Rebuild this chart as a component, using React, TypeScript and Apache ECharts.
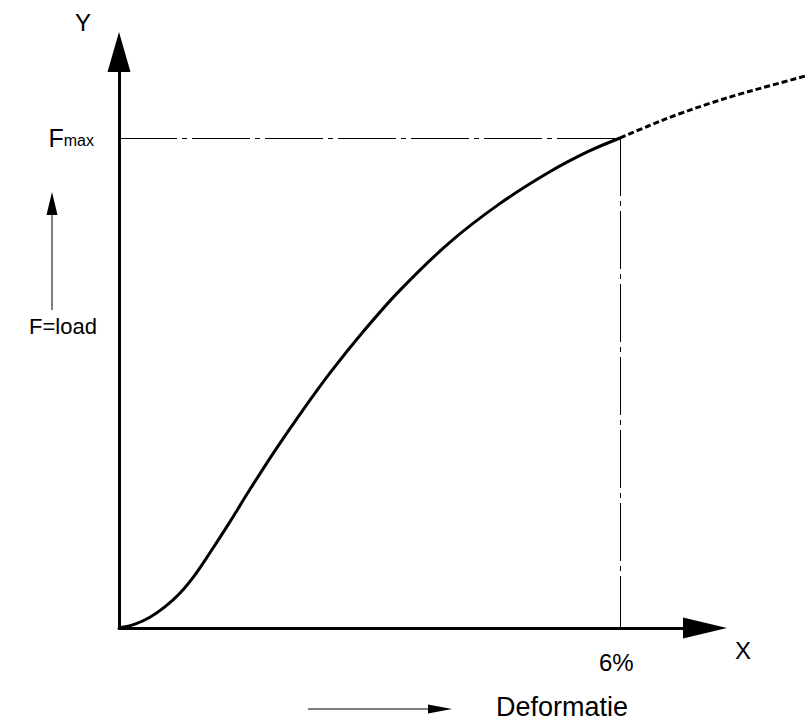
import React, { useEffect, useRef } from "react";
import * as echarts from "echarts";

// Measured curve (deformation in %, load in % of Fmax)
const deformation = [0, 0.191, 0.37, 0.549, 0.729, 0.908, 1.087, 1.326, 1.565, 1.864, 2.162, 2.52, 2.915, 3.357, 3.954, 4.551, 5.148, 5.626, 6.0];
const load = [0, 0.8, 2.2, 4.3, 7.1, 10.8, 15.3, 21.6, 28.2, 36.1, 43.5, 51.9, 60.3, 68.8, 78.6, 86.5, 93.0, 97.3, 100];
// Extrapolated (dashed) part beyond Fmax
const deformationExt = [6.0, 6.346, 6.704, 7.063, 7.421, 7.78, 8.23];
const loadExt = [100, 102.5, 104.9, 107.0, 108.9, 110.6, 112.7];

const X_FMAX = 6;
const FMAX = 100;
const X_MAX = 7; // end of the drawn x axis (arrow)
const X_MAX_DATA = 8.25; // data extends past the arrow
const Y_MAX = 117.55;

const FONT = "'Liberation Sans', Arial, sans-serif";

export default function App() {
  const ref = useRef<HTMLDivElement>(null);
  useEffect(() => {
    if (!ref.current) return;
    const chart = echarts.init(ref.current, undefined, { renderer: "svg" });
    const solid = deformation.map((x, i) => [x, load[i]]);
    const dashed = deformationExt.map((x, i) => [x, loadExt[i]]);
    const axisW = 586;
    chart.setOption({
      animation: false,
      backgroundColor: "#fff",
      grid: [
        { left: 119, top: 52, width: axisW, height: 576, containLabel: false },
        { left: 119, top: 52, width: (axisW * X_MAX_DATA) / X_MAX, height: 576, containLabel: false },
      ],
      xAxis: [
        {
          gridIndex: 0,
          type: "value",
          min: 0,
          max: X_MAX,
          splitLine: { show: false },
          axisTick: { show: false },
          axisLine: {
            show: true,
            lineStyle: { color: "#000", width: 3 },
            symbol: ["none", "triangle"],
            symbolSize: [21, 44],
          },
          axisLabel: {
            customValues: [X_FMAX],
            formatter: "{value}%",
            color: "#000",
            fontSize: 24,
            fontFamily: FONT,
            margin: 22,
            padding: [0, 10, 0, 0],
          },
        },
        { gridIndex: 1, type: "value", min: 0, max: X_MAX_DATA, show: false },
      ],
      yAxis: [
        {
          gridIndex: 0,
          type: "value",
          min: 0,
          max: Y_MAX,
          splitLine: { show: false },
          axisTick: { show: false },
          axisLine: {
            show: true,
            lineStyle: { color: "#000", width: 3 },
            symbol: ["none", "triangle"],
            symbolSize: [23, 40],
          },
          axisLabel: {
            customValues: [FMAX],
            formatter: () => "{a|F}{b|max}",
            margin: 25,
            rich: {
              a: { fontSize: 25, color: "#000", fontFamily: FONT },
              b: { fontSize: 16, color: "#000", fontFamily: FONT, padding: [6, 0, 0, 0] },
            },
          },
        },
        { gridIndex: 1, type: "value", min: 0, max: Y_MAX, show: false },
      ],
      series: [
        {
          type: "line",
          xAxisIndex: 1,
          yAxisIndex: 1,
          data: solid,
          symbol: "none",
          smooth: 0.35,
          clip: false,
          lineStyle: { color: "#000", width: 3 },
          markLine: {
            silent: true,
            symbol: ["none", "none"],
            label: { show: false },
            lineStyle: { color: "#000", width: 1, type: [58, 5, 5, 5] },
            data: [
              [{ coord: [0, FMAX] }, { coord: [X_FMAX, FMAX] }],
              [{ coord: [X_FMAX, FMAX] }, { coord: [X_FMAX, 0] }],
            ],
          },
        },
        {
          type: "line",
          xAxisIndex: 1,
          yAxisIndex: 1,
          data: dashed,
          symbol: "none",
          smooth: 0.35,
          clip: false,
          lineStyle: { color: "#000", width: 3, type: [6, 3] },
        },
      ],
      graphic: [
        { type: "text", x: 83, y: 22, style: { text: "Y", fontSize: 24, fontFamily: FONT, fill: "#000", align: "center", verticalAlign: "middle" } },
        { type: "text", x: 743, y: 650, style: { text: "X", fontSize: 24, fontFamily: FONT, fill: "#000", align: "center", verticalAlign: "middle" } },
        { type: "text", x: 29, y: 326, style: { text: "F=load", fontSize: 22, fontFamily: FONT, fill: "#000", align: "left", verticalAlign: "middle" } },
        { type: "text", x: 496, y: 707, style: { text: "Deformatie", fontSize: 27, fontFamily: FONT, fill: "#000", align: "left", verticalAlign: "middle" } },
        { type: "line", shape: { x1: 52, y1: 310, x2: 52, y2: 212 }, style: { stroke: "#000", lineWidth: 1 } },
        { type: "polygon", shape: { points: [[52, 192], [46.5, 215], [57.5, 215]] }, style: { fill: "#000" } },
        { type: "line", shape: { x1: 308, y1: 709, x2: 432, y2: 709 }, style: { stroke: "#000", lineWidth: 1 } },
        { type: "polygon", shape: { points: [[452, 709], [428, 704.5], [428, 713.5]] }, style: { fill: "#000" } },
      ],
    });
    return () => chart.dispose();
  }, []);
  return <div ref={ref} style={{ position: "absolute", left: 0, top: 0, width: 808, height: 722 }} />;
}
